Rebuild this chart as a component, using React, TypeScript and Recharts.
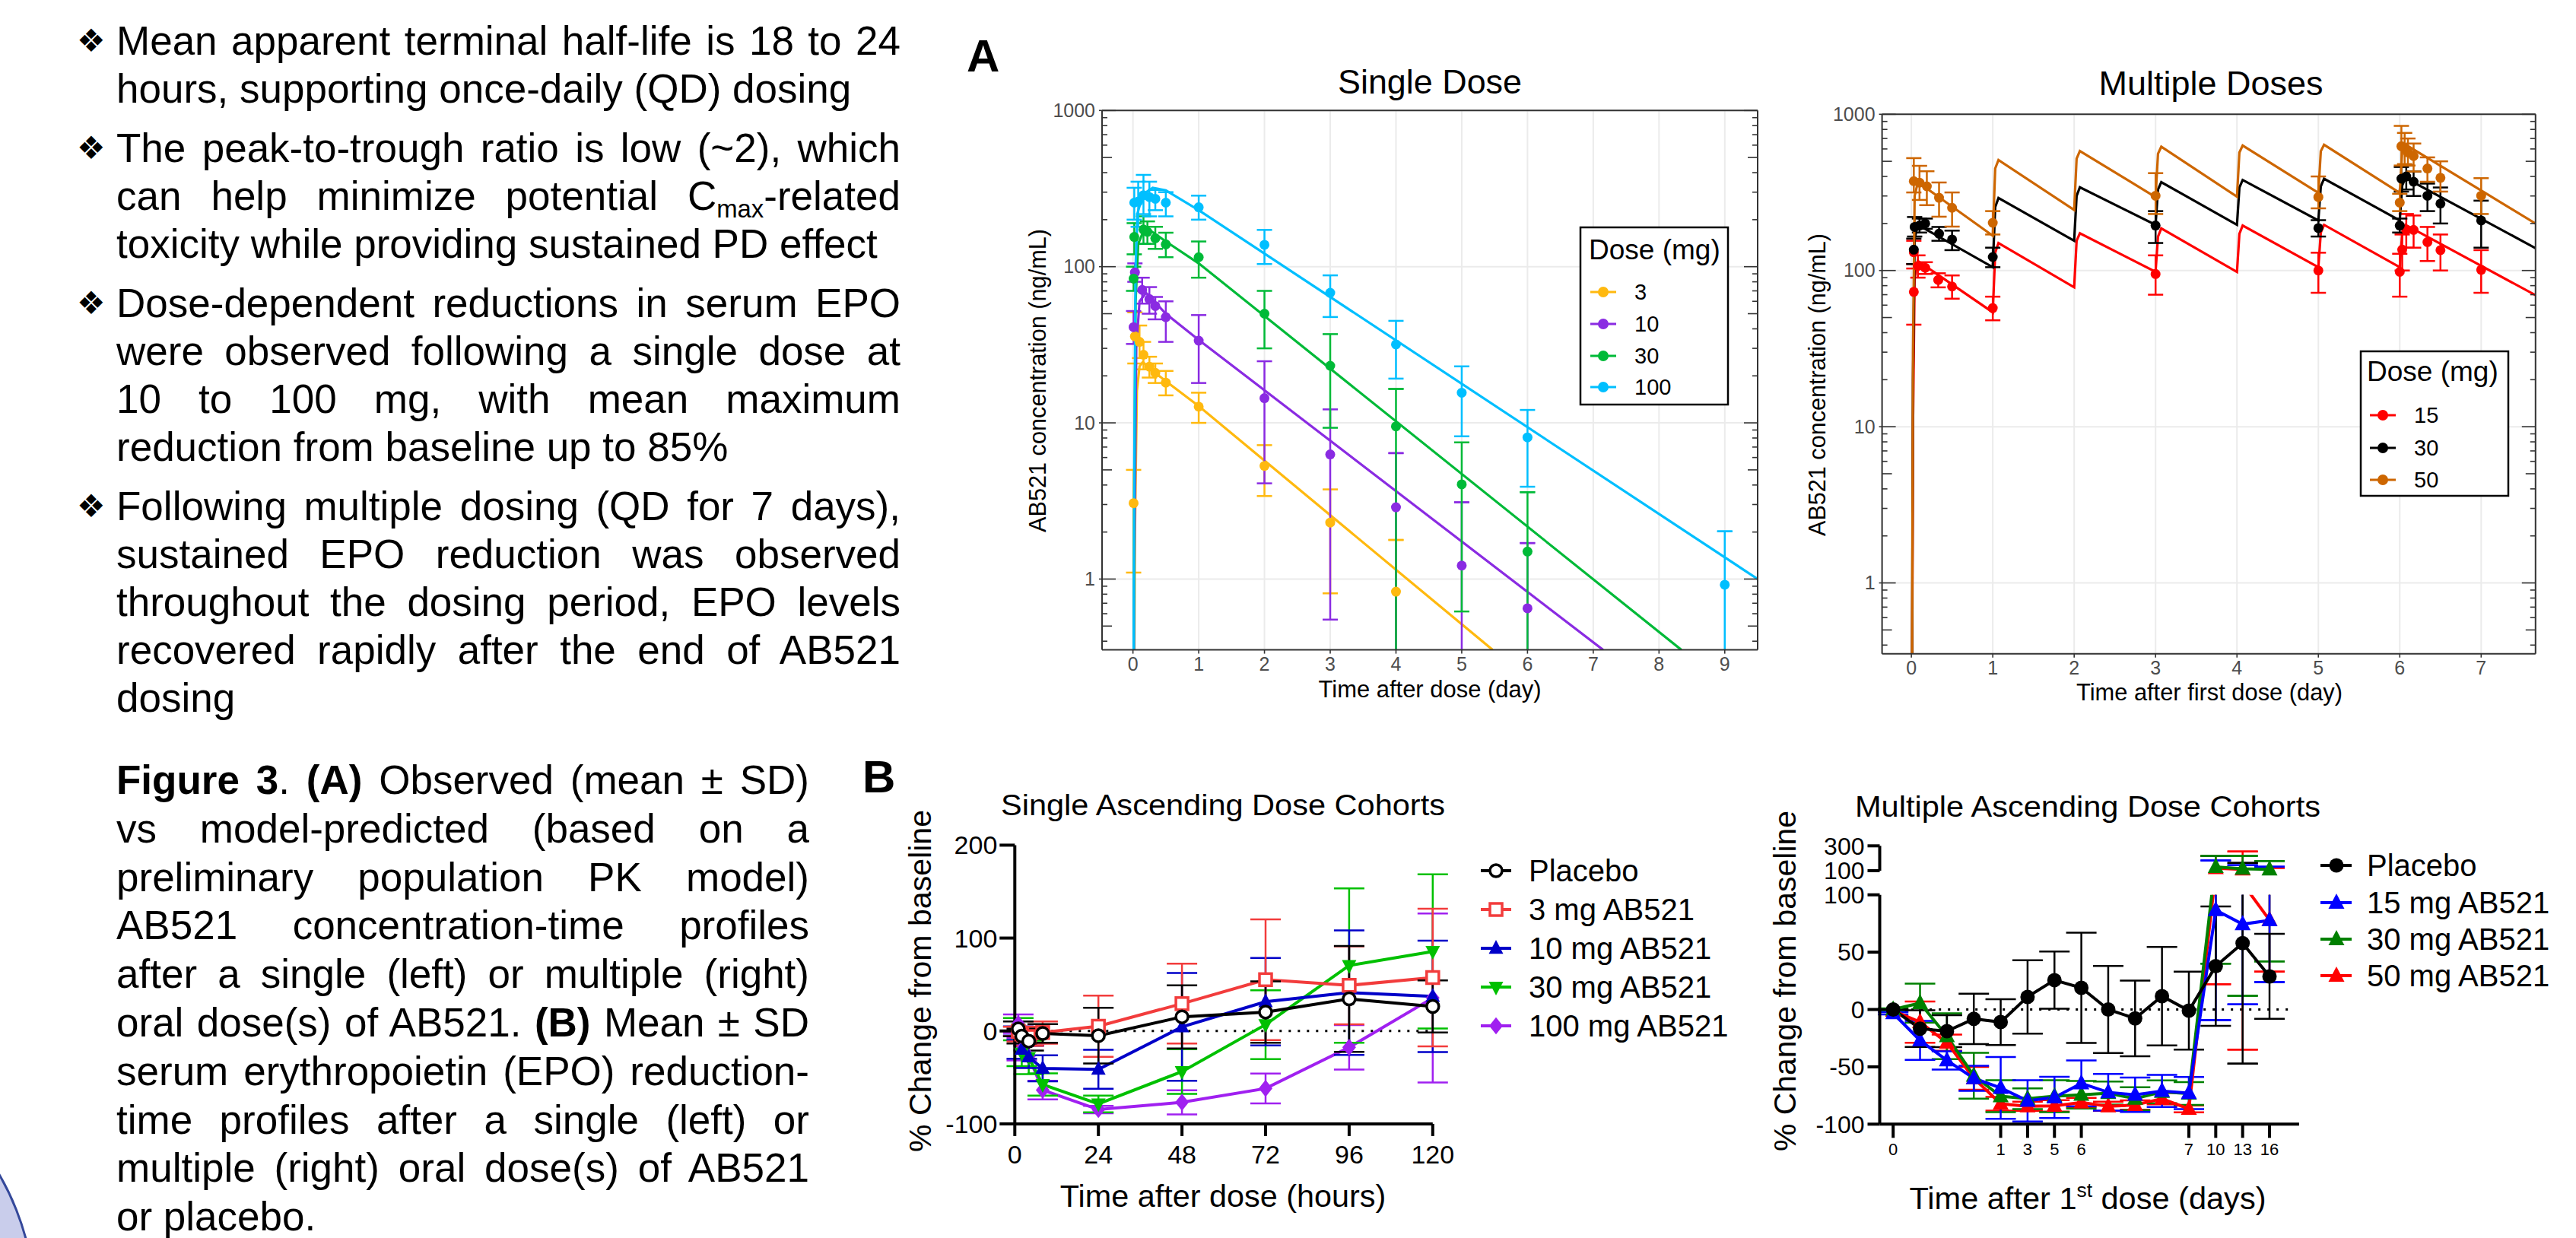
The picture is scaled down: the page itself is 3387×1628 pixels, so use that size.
import React from "react";
import { LineChart, Line, XAxis, YAxis, CartesianGrid, ReferenceLine, ErrorBar } from "recharts";

const FONT = "'Liberation Sans', Arial, Helvetica, sans-serif";

// ---------- Panel A, single dose: model lines (day, ng/mL) ----------
const sdLine3T = [0, 0.03, 0.06, 0.1, 0.15, 0.3, 0.5, 1, 5.47];
const sdLine3C = [0.01, 2, 16, 23, 24.5, 21.5, 18.5, 12.8, 0.352];
const sdLine10T = [0, 0.02, 0.05, 0.1, 0.2, 0.5, 1, 7.15];
const sdLine10C = [0.01, 1, 30, 60, 68, 50, 34, 0.352];
const sdLine30T = [0, 0.02, 0.04, 0.08, 0.15, 0.25, 0.5, 1, 8.34];
const sdLine30C = [0.01, 3, 60, 140, 165, 172, 145, 105, 0.352];
const sdLine100T = [0, 0.02, 0.04, 0.07, 0.15, 0.3, 0.5, 1, 9.5];
const sdLine100C = [0.01, 5, 100, 220, 290, 320, 308, 230, 1.0];

// observed: [day, mean, mean-SD, mean+SD]  (0.352 = runs off the bottom of the panel)
const sdObs3 = [
  [0.01, 3.06, 1.1, 5.0], [0.03, 35.8, 24, 51], [0.1, 33, 26, 42], [0.16, 27.3, 22, 33],
  [0.25, 22.9, 19.5, 26.5], [0.34, 20.9, 18, 24], [0.5, 18.1, 15, 21.5], [1, 12.7, 10, 15.6],
  [2, 5.3, 3.4, 7.2], [3, 2.3, 0.81, 3.75], [4, 0.83, 0.352, 1.78],
];
const sdObs10 = [
  [0.01, 41, 32, 52], [0.03, 92, 80, 105], [0.14, 71, 58, 85], [0.25, 62, 50, 74],
  [0.34, 56, 46, 64], [0.5, 47.5, 33, 60], [1, 33.6, 18, 49], [2, 14.4, 4.1, 24.8],
  [3, 6.28, 0.55, 12.2], [4, 2.88, 0.352, 6.4], [5, 1.22, 0.352, 3.1], [6, 0.65, 0.352, 1.7],
];
const sdObs30 = [
  [0.01, 83.8, 70, 100], [0.02, 155, 120, 190], [0.16, 173, 140, 210], [0.22, 167, 140, 195],
  [0.34, 152, 130, 180], [0.5, 139, 115, 165], [1, 115, 85, 145], [2, 50, 30, 70],
  [3, 23.2, 9.3, 37], [4, 9.5, 0.352, 16.5], [5, 4.04, 0.62, 7.5], [6, 1.5, 0.352, 3.6],
];
const sdObs100 = [
  [0.02, 257, 200, 320], [0.08, 261, 180, 350], [0.16, 287, 217, 387], [0.25, 279, 210, 350],
  [0.34, 272, 230, 310], [0.5, 257, 210, 300], [1, 240, 200, 285], [2, 138, 104, 172],
  [3, 68, 47.6, 88], [4, 31.8, 19.2, 45], [5, 15.6, 8.2, 23], [6, 8.07, 3.9, 12.1], [9, 0.92, 0.352, 2.02],
];

// ---------- Panel A, multiple doses ----------
const mdLine15T = [0, 0.02, 0.04, 0.08, 1, 1.03, 1.07, 2, 2.03, 2.07, 3, 3.03, 3.07, 4, 4.03, 4.07, 5, 5.03, 5.07, 6, 6.03, 6.07, 7.668];
const mdLine15C = [0.01, 10, 90, 115, 54, 130, 150, 78, 155, 173, 98, 165, 186, 98, 172, 194, 105, 175, 196, 105, 175, 196, 69.5];
const mdLine30T = mdLine15T;
const mdLine30C = [0.01, 20, 160, 196, 105, 255, 291, 155, 300, 341, 196, 330, 368, 196, 340, 380, 209, 345, 387, 209, 350, 391, 139];
const mdLine50T = mdLine15T;
const mdLine50C = [0.01, 30, 300, 368, 167, 450, 510, 244, 520, 582, 295, 560, 620, 297, 570, 631, 314, 580, 638, 314, 580, 640, 200];

const mdObs15 = [
  [0.03, 73, 45, 103], [0.03, 131, 110, 155], [0.08, 107, 90, 125], [0.17, 104, 95, 113],
  [0.33, 87, 78, 96], [0.5, 79, 66, 93], [1, 57.5, 48, 68], [3, 95, 70, 125], [5, 100, 72, 130],
  [6, 98, 68, 128], [6.03, 136, 100, 170], [6.08, 182, 140, 230], [6.17, 182, 140, 225],
  [6.34, 152, 115, 190], [6.5, 135, 100, 170], [7, 101, 72, 135],
];
const mdObs30 = [
  [0.03, 136, 110, 160], [0.04, 190, 165, 220], [0.1, 194, 175, 215], [0.17, 200, 185, 215],
  [0.34, 172, 155, 190], [0.5, 158, 135, 180], [1, 122, 105, 140], [3, 194, 150, 240], [5, 187, 165, 210],
  [6, 194, 175, 215], [6.02, 387, 320, 460], [6.08, 400, 330, 470], [6.17, 370, 300, 430],
  [6.34, 301, 240, 360], [6.5, 268, 200, 340], [7, 209, 140, 280],
];
const mdObs50 = [
  [0.03, 373, 316, 524], [0.1, 365, 283, 468], [0.19, 346, 262, 432], [0.34, 292, 221, 366],
  [0.5, 252, 191, 316], [1, 202, 170, 240], [3, 301, 230, 420], [5, 295, 250, 400], [6, 272, 240, 310],
  [6.02, 624, 470, 843], [6.06, 610, 480, 760], [6.1, 570, 470, 700], [6.17, 540, 430, 650],
  [6.34, 450, 370, 530], [6.5, 392, 320, 500], [7, 301, 230, 390],
];

const sdDoses = ["3", "10", "30", "100"];
const sdColors = ["#FFB90F", "#8A2BE2", "#00BA38", "#00BFFF"];
const mdDoses = ["15", "30", "50"];
const mdColors = ["#FF0000", "#000000", "#CD6600"];

const logTicks = [
  0.4, 0.5, 0.6, 0.7, 0.8, 0.9, 1, 2, 3, 4, 5, 6, 7, 8, 9, 10, 20, 30, 40, 50, 60, 70, 80, 90,
  100, 200, 300, 400, 500, 600, 700, 800, 900, 1000,
];
const logMajor = [1, 10, 100, 1000];
const logDomain = [0.352, 1000];
const sdDayTicks = [0, 1, 2, 3, 4, 5, 6, 7, 8, 9];
const mdDayTicks = [0, 1, 2, 3, 4, 5, 6, 7];

// ---------- Panel B, single ascending dose (% change) ----------
const sadHours = [1, 2, 4, 8, 24, 48, 72, 96, 120];
const sadTicks = [0, 24, 48, 72, 96, 120];
const sadPlacebo = [2.2, -5.5, -11, -2.7, -5.1, 15.2, 20.3, 34.5, 26.4];
const sadPlaceboSd = [8, 8, 10, 10, 30, 34, 33, 57, 28];
const sad3 = [-0.5, -3.3, -6, -1.7, 5.1, 29.4, 55.2, 49.1, 57.5];
const sad3Sd = [5, 8, 10, 12, 33, 43, 65, 42, 74];
const sad10 = [0, -19.8, -28, -40.3, -41.3, 4.4, 31.5, 41.3, 37.2];
const sad10Sd = [5, 10, 12, 14, 21, 58, 47, 67, 60];
const sad30 = [2, -23.9, -28.5, -57.6, -78.5, -43.7, 6.8, 70.4, 85.6];
const sad30Sd = [12, 14, 18, 12, 9, 24, 37, 83, 83];
const sad100 = [7.7, -19.8, -27.4, -63.6, -84.6, -76.8, -61.9, -17.6, 35.5];
const sad100Sd = [10, 12, 12, 10, 4, 13, 16, 24, 91];

// ---------- Panel B, multiple ascending dose (% change) ----------
const madLabels = ["0", "", "", "", "1", "3", "5", "6", "", "", "", "7", "10", "13", "16"];
const madPlacebo = [0, -16.7, -18.9, -8.2, -11, 11, 25.6, 18.9, 0, -7.8, 11.6, -1, 37.8, 57.8, 28.9];
const madPlaceboSd = [0, 16, 14, 22, 20, 32, 25, 48, 38, 33, 43, 34, 52, 105, 37];
const mad15 = [-3.3, -27, -44.4, -60, -68.4, -79.6, -76.7, -64.4, -72.2, -74.4, -71.1, -72.9, 86.7, 74.4, 77.8];
const mad15Sd = [1, 17, 8, 11, 27, 18, 18, 20, 16, 15, 14, 14, 96, 70, 54];
const mad30 = [0, 5.6, -23.3, -57.8, -75.6, -77.8, -75.6, -74.4, -72.9, -77.8, -71.8, -73.3, 130, 116, 110];
const mad30Sd = [1, 17, 20, 20, 14, 9, 14, 12, 10, 10, 10, 10, 90, 104, 68];
const mad50 = [-1, -11, -28.9, -60, -82.2, -84.4, -84, -81.1, -84.4, -83.3, -77.8, -86.7, 120, 110, 78];
const mad50Sd = [1, 18, 7, 10, 6, 4, 5, 4, 4, 4, 5, 3, 98, 145, 45];

// ---------- left column text ----------
const CMAX = (
  <>
    C<sub style={{ fontSize: "0.62em", lineHeight: 0, verticalAlign: "-0.3em" }}>max</sub>
  </>
);
const introParas: React.ReactNode[][] = [
  ["Mean apparent terminal half-life is 18 to 24", "hours, supporting once-daily (QD) dosing"],
  ["The peak-to-trough ratio is low (~2), which", <>can help minimize potential {CMAX}-related</>, "toxicity while providing sustained PD effect"],
  ["Dose-dependent reductions in serum EPO", "were observed following a single dose at", "10 to 100 mg, with mean maximum", "reduction from baseline up to 85%"],
  ["Following multiple dosing (QD for 7 days),", "sustained EPO reduction was observed", "throughout the dosing period, EPO levels", "recovered rapidly after the end of AB521", "dosing"],
];
const captionLines: React.ReactNode[] = [
  <><b>Figure 3</b>. <b>(A)</b> Observed (mean ± SD)</>,
  "vs model-predicted (based on a",
  "preliminary population PK model)",
  "AB521 concentration-time profiles",
  "after a single (left) or multiple (right)",
  <>oral dose(s) of AB521. <b>(B)</b> Mean ± SD</>,
  "serum erythropoietin (EPO) reduction-",
  "time profiles after a single (left) or",
  "multiple (right) oral dose(s) of AB521",
  "or placebo.",
];

// ---------- helpers ----------
const toLine = (t: number[], c: number[]) => t.map((x, i) => ({ t: x, v: c[i] }));

// error bars cut by a panel edge get no cap on that end
type Bar = { x: number; v: number; lo: number; hi: number; loCut: boolean; hiCut: boolean };
function splitBars(pts: Bar[], key: string) {
  const full: any[] = [];
  const stem: any[] = [];
  const cap: any[] = [];
  pts.forEach((p) => {
    const base = { [key]: p.x, v: p.v };
    if (!p.loCut && !p.hiCut) {
      full.push({ ...base, e: [p.v - p.lo, p.hi - p.v] });
      return;
    }
    stem.push({ ...base, e: [p.v - p.lo, p.hi - p.v] });
    if (!p.loCut) cap.push({ ...base, e: [p.v - p.lo, p.lo - p.v] });
    if (!p.hiCut) cap.push({ ...base, e: [p.v - p.hi, p.hi - p.v] });
  });
  return { full, stem, cap };
}

function barLines(id: string, bars: any, color: string, capW: number, sw: number) {
  const parts: [string, any[], number][] = [
    ["f", bars.full, capW],
    ["s", bars.stem, 0],
    ["c", bars.cap, capW],
  ];
  return parts.map(([k, data, w]) => (
    <Line
      key={id + k}
      data={data}
      dataKey="v"
      stroke="none"
      dot={false}
      activeDot={false}
      isAnimationActive={false}
    >
      <ErrorBar dataKey="e" width={w} strokeWidth={sw} stroke={color} direction="y" />
    </Line>
  ));
}

const pkBars = (rows: number[][]) =>
  splitBars(
    rows.map(([t, m, lo, hi]) => ({ x: t, v: m, lo, hi, loCut: lo <= logDomain[0], hiCut: hi >= logDomain[1] })),
    "t"
  );

const sdSeries = [
  { color: sdColors[0], line: toLine(sdLine3T, sdLine3C), rows: sdObs3 },
  { color: sdColors[1], line: toLine(sdLine10T, sdLine10C), rows: sdObs10 },
  { color: sdColors[2], line: toLine(sdLine30T, sdLine30C), rows: sdObs30 },
  { color: sdColors[3], line: toLine(sdLine100T, sdLine100C), rows: sdObs100 },
];
const mdSeries = [
  { color: mdColors[0], line: toLine(mdLine15T, mdLine15C), rows: mdObs15 },
  { color: mdColors[1], line: toLine(mdLine30T, mdLine30C), rows: mdObs30 },
  { color: mdColors[2], line: toLine(mdLine50T, mdLine50C), rows: mdObs50 },
];

function tickKind(v: number) {
  const e = Math.floor(Math.log10(v) + 1e-9);
  const m = Math.round(v / Math.pow(10, e));
  return m === 1 ? "major" : m === 5 ? "mid" : "minor";
}

function LogTick(props: any) {
  const { y, payload, edge, dir, labels } = props;
  const v = payload.value;
  const kind = tickKind(v);
  const len = kind === "major" ? 18 : kind === "mid" ? 13 : 7;
  return (
    <g>
      <line x1={edge} x2={edge + dir * len} y1={y} y2={y} stroke="#333" strokeWidth={1.6} />
      {labels && kind === "major" && <line x1={edge - 4} x2={edge} y1={y} y2={y} stroke="#333" strokeWidth={1.6} />}
      {labels && kind === "major" && (
        <text x={edge - 9} y={y} dy="0.35em" textAnchor="end" fontSize={25} fill="#4D4D4D">
          {v}
        </text>
      )}
    </g>
  );
}

function PKChart({ geo, xDomain, xTicks, series }: any) {
  const { w, h, pl, pr, pt, pb } = geo;
  const axisStyle = { stroke: "#333", strokeWidth: 2 };
  return (
    <div style={{ position: "absolute", left: geo.left, top: geo.top }}>
      <LineChart width={w} height={h} margin={{ top: pt, right: w - pr - 1, bottom: 0, left: 0 }}>
        <CartesianGrid horizontal={false} stroke="#EBEBEB" strokeWidth={2} />
        {logMajor.map((v) => (
          <ReferenceLine key={v} y={v} stroke="#EBEBEB" strokeWidth={2} />
        ))}
        <XAxis
          type="number"
          dataKey="t"
          domain={xDomain}
          allowDataOverflow
          ticks={xTicks}
          interval={0}
          height={h - pb}
          tickSize={5}
          tickMargin={5}
          axisLine={axisStyle}
          tickLine={{ stroke: "#333", strokeWidth: 1.6 }}
          tick={{ fontSize: 25, fill: "#4D4D4D" }}
        />
        <YAxis
          type="number"
          scale="log"
          domain={logDomain}
          allowDataOverflow
          ticks={logTicks}
          interval={0}
          width={pl}
          tickLine={false}
          axisLine={axisStyle}
          tick={(p: any) => <LogTick {...p} edge={pl} dir={1} labels />}
        />
        <YAxis
          yAxisId="r"
          orientation="right"
          type="number"
          scale="log"
          domain={logDomain}
          allowDataOverflow
          ticks={logTicks}
          interval={0}
          width={1}
          tickLine={false}
          axisLine={axisStyle}
          tick={(p: any) => <LogTick {...p} edge={pr} dir={-1} />}
        />
        <ReferenceLine y={1000} stroke="#333" strokeWidth={2} />
        {series.map((s: any, i: number) => [
          ...barLines("b" + i, pkBars(s.rows), s.color, 10, 2.5),
          <Line
            key={"o" + i}
            data={s.rows.map((r: number[]) => ({ t: r[0], v: r[1] }))}
            dataKey="v"
            stroke="none"
            dot={{ r: 6.5, fill: s.color, strokeWidth: 0 }}
            activeDot={false}
            isAnimationActive={false}
          />,
          <Line
            key={"m" + i}
            data={s.line}
            dataKey="v"
            type="linear"
            stroke={s.color}
            strokeWidth={3.2}
            dot={false}
            activeDot={false}
            isAnimationActive={false}
          />,
        ])}
      </LineChart>
    </div>
  );
}

function Marker({ kind, cx, cy, color, s }: any) {
  if (kind === "openCircle") return <circle cx={cx} cy={cy} r={s} fill="#fff" stroke={color} strokeWidth={3.5} />;
  if (kind === "openSquare")
    return <rect x={cx - s} y={cy - s} width={2 * s} height={2 * s} fill="#fff" stroke={color} strokeWidth={3.5} />;
  if (kind === "circle") return <circle cx={cx} cy={cy} r={s} fill={color} />;
  if (kind === "triUp")
    return <polygon points={`${cx},${cy - s * 1.15} ${cx - s},${cy + s * 0.75} ${cx + s},${cy + s * 0.75}`} fill={color} />;
  if (kind === "triDown")
    return <polygon points={`${cx},${cy + s * 1.15} ${cx - s},${cy - s * 0.75} ${cx + s},${cy - s * 0.75}`} fill={color} />;
  return <polygon points={`${cx},${cy - s * 1.25} ${cx + s},${cy} ${cx},${cy + s * 1.25} ${cx - s},${cy}`} fill={color} />;
}

const dotFn = (kind: string, color: string, s: number, maxV?: number) => (p: any) => {
  const ok = p.cx != null && p.cy != null && !(maxV != null && p.payload.v > maxV);
  return <g key={"d" + p.index}>{ok && <Marker kind={kind} cx={p.cx} cy={p.cy} color={color} s={s} />}</g>;
};

const sadSeries = [
  { name: "Placebo", color: "#000000", kind: "openCircle", s: 8, v: sadPlacebo, sd: sadPlaceboSd },
  { name: "3 mg AB521", color: "#F23C3C", kind: "openSquare", s: 8, v: sad3, sd: sad3Sd },
  { name: "10 mg AB521", color: "#0000C8", kind: "triUp", s: 9.5, v: sad10, sd: sad10Sd },
  { name: "30 mg AB521", color: "#00C000", kind: "triDown", s: 9.5, v: sad30, sd: sad30Sd },
  { name: "100 mg AB521", color: "#A020F0", kind: "diamond", s: 9, v: sad100, sd: sad100Sd },
];
const madSeries = [
  { name: "Placebo", color: "#000000", kind: "circle", s: 9.5, v: madPlacebo, sd: madPlaceboSd },
  { name: "15 mg AB521", color: "#0000FF", kind: "triUp", s: 10.5, v: mad15, sd: mad15Sd },
  { name: "30 mg AB521", color: "#008000", kind: "triUp", s: 10.5, v: mad30, sd: mad30Sd },
  { name: "50 mg AB521", color: "#FF0000", kind: "triUp", s: 10.5, v: mad50, sd: mad50Sd },
];

const bAxis = { stroke: "#000", strokeWidth: 4 };

function SadChart() {
  return (
    <div style={{ position: "absolute", left: 1130, top: 980 }}>
      <LineChart width={1200} height={648} margin={{ top: 131.4, right: 446.2, bottom: 0, left: 0 }}>
        <ReferenceLine y={0} stroke="#000" strokeWidth={3} strokeDasharray="3 9" />
        <XAxis
          type="number"
          dataKey="t"
          domain={[0, 120]}
          ticks={sadTicks}
          interval={0}
          height={150.1}
          tickSize={16}
          tickMargin={12}
          axisLine={bAxis}
          tickLine={bAxis}
          tick={{ fontSize: 34, fill: "#000" }}
        />
        <YAxis
          type="number"
          domain={[-100, 200]}
          ticks={[-100, 0, 100, 200]}
          interval={0}
          width={204.3}
          tickSize={20}
          tickMargin={3}
          axisLine={bAxis}
          tickLine={bAxis}
          tick={{ fontSize: 34, fill: "#000" }}
        />
        {[...sadSeries].reverse().map((s) => (
          <Line
            key={s.name}
            data={sadHours.map((t, i) => ({ t, v: s.v[i], e: s.sd[i] }))}
            dataKey="v"
            stroke={s.color}
            strokeWidth={4}
            dot={dotFn(s.kind, s.color, s.s)}
            activeDot={false}
            isAnimationActive={false}
          >
            <ErrorBar dataKey="e" width={20} strokeWidth={2.5} stroke={s.color} direction="y" />
          </Line>
        ))}
      </LineChart>
    </div>
  );
}

// broken y axis: lower segment -100..100, upper segment 100..300
const LOW_MIN = -100;
const LOW_MAX = 100;
const UP_MAX = 300;
const madTickIdx = madLabels.map((_, i) => i).filter((i) => madLabels[i] !== "");

const madLowerBars = (v: number[], sd: number[]) =>
  splitBars(
    v
      .map((x, i) => ({
        x: i,
        v: x,
        lo: Math.max(x - sd[i], LOW_MIN),
        hi: Math.min(x + sd[i], LOW_MAX),
        loCut: x - sd[i] < LOW_MIN,
        hiCut: x + sd[i] > LOW_MAX,
      }))
      .filter((p) => p.lo < LOW_MAX),
    "i"
  );
const madUpperBars = (v: number[], sd: number[]) =>
  splitBars(
    v
      .map((x, i) => ({
        x: i,
        v: Math.max(x, LOW_MAX),
        lo: Math.max(x - sd[i], LOW_MAX),
        hi: Math.min(x + sd[i], UP_MAX),
        loCut: x - sd[i] < LOW_MAX,
        hiCut: x + sd[i] > UP_MAX,
      }))
      .filter((p) => p.hi > LOW_MAX),
    "i"
  );
const madUpperPts = (v: number[]) => v.map((x, i) => ({ i, v: x })).filter((p) => p.v >= LOW_MAX);

function MadChart() {
  const order = [...madSeries].reverse();
  return (
    <>
      <div style={{ position: "absolute", left: 2320, top: 1020 }}>
        <LineChart width={800} height={560} margin={{ top: 156.7, right: 97.1, bottom: 0, left: 0 }}>
          <ReferenceLine
            segment={[{ x: 0, y: 0 }, { x: 14.8, y: 0 }]}
            stroke="#000"
            strokeWidth={3}
            strokeDasharray="3 9"
          />
          <XAxis
            type="number"
            dataKey="i"
            domain={[-0.5, 15.1]}
            ticks={madTickIdx}
            interval={0}
            tickFormatter={(i: number) => madLabels[i]}
            height={101.7}
            tickSize={18}
            tickMargin={7}
            axisLine={bAxis}
            tickLine={bAxis}
            tick={{ fontSize: 22, fill: "#000" }}
          />
          <YAxis
            type="number"
            domain={[LOW_MIN, LOW_MAX]}
            allowDataOverflow
            ticks={[-100, -50, 0, 50, 100]}
            interval={0}
            width={151.5}
            tickSize={16}
            tickMargin={4}
            axisLine={bAxis}
            tickLine={bAxis}
            tick={{ fontSize: 32, fill: "#000" }}
          />
          {order.map((s) => barLines("lb" + s.name, madLowerBars(s.v, s.sd), s.color, 20, 2.5))}
          {order.map((s) => (
            <Line
              key={s.name}
              data={s.v.map((x, i) => ({ i, v: x }))}
              dataKey="v"
              stroke={s.color}
              strokeWidth={4}
              dot={dotFn(s.kind, s.color, s.s, LOW_MAX)}
              activeDot={false}
              isAnimationActive={false}
            />
          ))}
        </LineChart>
      </div>
      <div style={{ position: "absolute", left: 2320, top: 1020 }}>
        <LineChart width={800} height={560} margin={{ top: 92.3, right: 97.1, bottom: 435, left: 0 }}>
          <XAxis type="number" dataKey="i" domain={[-0.5, 15.1]} hide />
          <YAxis
            type="number"
            domain={[LOW_MAX, UP_MAX]}
            ticks={[100, 300]}
            interval={0}
            width={151.5}
            tickSize={16}
            tickMargin={4}
            axisLine={bAxis}
            tickLine={bAxis}
            tick={{ fontSize: 32, fill: "#000" }}
          />
          {order.map((s) => barLines("ub" + s.name, madUpperBars(s.v, s.sd), s.color, 20, 2.5))}
          {order.map((s) => (
            <Line
              key={"u" + s.name}
              data={madUpperPts(s.v)}
              dataKey="v"
              stroke={s.color}
              strokeWidth={4}
              dot={dotFn(s.kind, s.color, s.s)}
              activeDot={false}
              isAnimationActive={false}
            />
          ))}
        </LineChart>
      </div>
    </>
  );
}

function Label({ x, y, size, w, anchor = "middle", weight, rotate, children }: any) {
  return (
    <text
      x={x}
      y={y}
      fontSize={size}
      fontWeight={weight}
      textAnchor={anchor}
      fill="#000"
      textLength={w}
      lengthAdjust={w ? "spacingAndGlyphs" : undefined}
      dominantBaseline={rotate ? "central" : undefined}
      transform={rotate ? `rotate(-90 ${x} ${y})` : undefined}
    >
      {children}
    </text>
  );
}

function PkLegend({ x, y, w, h, titleX, titleY, itemX, textX, itemY, labels, colors }: any) {
  return (
    <g>
      <rect x={x} y={y} width={w} height={h} fill="#fff" stroke="#000" strokeWidth={2.5} />
      <Label x={titleX} y={titleY} size={37} anchor="start">
        Dose (mg)
      </Label>
      {labels.map((lab: string, i: number) => (
        <g key={lab}>
          <line x1={itemX - 17} x2={itemX + 17} y1={itemY[i]} y2={itemY[i]} stroke={colors[i]} strokeWidth={3.2} />
          <circle cx={itemX} cy={itemY[i]} r={7} fill={colors[i]} />
          <text x={textX} y={itemY[i]} dy="0.36em" fontSize={29} fill="#000">
            {lab}
          </text>
        </g>
      ))}
    </g>
  );
}

function BLegend({ x1, x2, mx, tx, ys, series }: any) {
  return (
    <g>
      {series.map((s: any, i: number) => (
        <g key={s.name}>
          <line x1={x1} x2={x2} y1={ys[i]} y2={ys[i]} stroke={s.color} strokeWidth={4} />
          <Marker kind={s.kind} cx={mx} cy={ys[i]} color={s.color} s={s.s} />
          <text x={tx} y={ys[i]} dy="0.36em" fontSize={40} fill="#000">
            {s.name}
          </text>
        </g>
      ))}
    </g>
  );
}

function TextLine({ y, width, last, children }: any) {
  return (
    <div
      style={{
        position: "absolute",
        left: 153,
        top: y - 32,
        width,
        height: 64,
        lineHeight: "64px",
        fontSize: 53,
        textAlign: "justify",
        textAlignLast: last ? "left" : "justify",
      } as any}
    >
      {children}
    </div>
  );
}

export default function App() {
  const paraStart = [54, 195, 399, 666];
  return (
    <div
      style={{
        position: "absolute",
        left: 0,
        top: 0,
        width: 3387,
        height: 1628,
        overflow: "hidden",
        background: "#fff",
        fontFamily: FONT,
        color: "#000",
      }}
    >
      <div
        style={{
          position: "absolute",
          left: -641,
          top: 1373,
          width: 682,
          height: 682,
          borderRadius: "50%",
          background: "#C9CDEB",
          border: "3px solid #34489A",
        }}
      />
      {introParas.map((para, pi) => (
        <React.Fragment key={pi}>
          <div
            style={{
              position: "absolute",
              left: 101,
              top: paraStart[pi] - 32,
              height: 64,
              lineHeight: "64px",
              fontSize: 42,
              fontFamily: "'DejaVu Sans', sans-serif",
            }}
          >
            ❖
          </div>
          {para.map((ln, li) => (
            <TextLine key={li} y={paraStart[pi] + li * 63} width={1031} last={li === para.length - 1}>
              {ln}
            </TextLine>
          ))}
        </React.Fragment>
      ))}
      {captionLines.map((ln, li) => (
        <TextLine key={"c" + li} y={1026 + li * 63.8} width={911} last={li === captionLines.length - 1}>
          {ln}
        </TextLine>
      ))}

      <PKChart
        geo={{ left: 1280, top: 60, w: 1060, h: 880, pl: 169, pr: 1031, pt: 85.3, pb: 794.6 }}
        xDomain={[-0.47, 9.5]}
        xTicks={sdDayTicks}
        series={sdSeries}
      />
      <PKChart
        geo={{ left: 2360, top: 60, w: 1027, h: 880, pl: 114.6, pr: 973.8, pt: 90.3, pb: 799.7 }}
        xDomain={[-0.36, 7.668]}
        xTicks={mdDayTicks}
        series={mdSeries}
      />
      <SadChart />
      <MadChart />

      <svg
        width={3387}
        height={1628}
        style={{ position: "absolute", left: 0, top: 0, pointerEvents: "none", fontFamily: FONT }}
      >
        <Label x={1271} y={94} size={60} weight="bold" anchor="start">A</Label>
        <Label x={1134} y={1042} size={60} weight="bold" anchor="start">B</Label>

        <Label x={1880} y={123} size={44} w={242}>Single Dose</Label>
        <Label x={2907} y={124.5} size={44} w={295}>Multiple Doses</Label>
        <Label x={1880} y={917} size={31} w={293}>Time after dose (day)</Label>
        <Label x={2905} y={921} size={31} w={350}>Time after first dose (day)</Label>
        <Label x={1364.5} y={500.5} size={31} w={399} rotate>AB521 concentration (ng/mL)</Label>
        <Label x={2389.5} y={506} size={31} w={398} rotate>AB521 concentration (ng/mL)</Label>

        <PkLegend
          x={2078} y={299} w={194} h={233}
          titleX={2089} titleY={341}
          itemX={2108} textX={2149}
          itemY={[384, 426, 468, 509]}
          labels={sdDoses} colors={sdColors}
        />
        <PkLegend
          x={3104} y={462} w={194} h={190}
          titleX={3112} titleY={500.5}
          itemX={3133} textX={3174}
          itemY={[546, 589, 631]}
          labels={mdDoses} colors={mdColors}
        />

        <Label x={1608} y={1071.7} size={38} w={584}>Single Ascending Dose Cohorts</Label>
        <Label x={2745} y={1074} size={38} w={612}>Multiple Ascending Dose Cohorts</Label>
        <Label x={1608} y={1586.6} size={41} w={428.5}>Time after dose (hours)</Label>
        <text x={2745} y={1590} fontSize={41} textAnchor="middle" textLength={469} lengthAdjust="spacingAndGlyphs">
          Time after 1<tspan dy={-16} fontSize={26}>st</tspan>
          <tspan dy={16}> dose (days)</tspan>
        </text>
        <Label x={1210} y={1290} size={40} w={450} rotate>% Change from baseline</Label>
        <Label x={2347} y={1290} size={40} w={448} rotate>% Change from baseline</Label>

        <BLegend x1={1947} x2={1987} mx={1967} tx={2010} ys={[1145, 1196, 1247, 1298, 1349]} series={sadSeries} />
        <BLegend x1={3051} x2={3092} mx={3072} tx={3112} ys={[1138, 1187, 1235, 1283]} series={madSeries} />
      </svg>
    </div>
  );
}
